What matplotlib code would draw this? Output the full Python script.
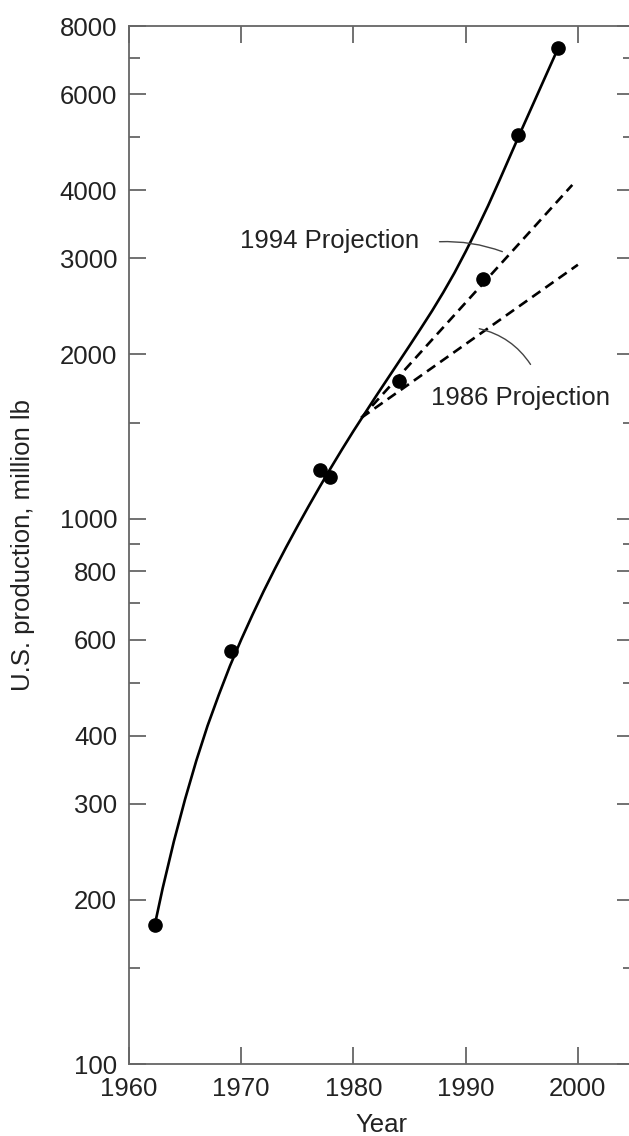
import matplotlib
matplotlib.use("Agg")
import matplotlib.pyplot as plt
from matplotlib.ticker import FixedLocator, NullFormatter, FixedFormatter

plt.rcParams['font.family'] = ['Liberation Sans', 'DejaVu Sans']

# ---- data ----
data_years = [1962.3, 1969.1, 1977.05, 1977.9, 1984.1, 1991.5, 1994.7, 1998.2]
data_values = [180, 571, 1226, 1193, 1791, 2754, 5050, 7280]

# points
curve_years = [1962.3, 1963, 1964, 1965, 1966, 1967, 1968, 1969, 1970, 1971,
               1972, 1973, 1974, 1975, 1976, 1977, 1978, 1979, 1980, 1981,
               1982, 1983, 1984, 1985, 1986, 1987, 1988, 1989, 1990, 1991,
               1992, 1993, 1994, 1995, 1996, 1997, 1998, 1998.2]
curve_values = [180, 210, 256, 306, 360, 417, 475, 537, 600, 666,
                736, 809, 886, 967, 1053, 1144, 1240, 1341, 1447, 1557,
                1675, 1799, 1932, 2075, 2231, 2402, 2597, 2821, 3087, 3393,
                3747, 4165, 4641, 5171, 5748, 6391, 7104, 7255]

proj1994_years = [1980.7, 1999.5]
proj1994_values = [1530, 4090]
proj1986_years = [1980.7, 2000.0]
proj1986_values = [1530, 2920]

x_ticks = [1960, 1970, 1980, 1990, 2000]
x_tick_labels = ['1960', '1970', '1980', '1990', '2000']
y_major = [100, 200, 300, 400, 600, 800, 1000, 2000, 3000, 4000, 6000, 8000]
y_major_labels = ['100', '200', '300', '400', '600', '800', '1000', '2000',
                  '3000', '4000', '6000', '8000']
y_minor = [150, 500, 700, 900, 1500, 5000, 7000]

# ---- figure ----
W, H = 629, 1136
fig = plt.figure(figsize=(W / 100, H / 100), dpi=100)
ax = fig.add_axes([129 / W, 72 / H, (634 - 129) / W, (1064 - 26) / H])

ax.set_yscale('log')
ax.set_xlim(1960, 2005)
ax.set_ylim(100, 8000)

spine_color = '#666666'
text_color = '#222222'
fs = 18.5

for s in ax.spines.values():
    s.set_color(spine_color)
    s.set_linewidth(1.3)

ax.xaxis.set_major_locator(FixedLocator(x_ticks))
ax.xaxis.set_major_formatter(FixedFormatter(x_tick_labels))
ax.xaxis.set_minor_locator(FixedLocator([]))
ax.yaxis.set_major_locator(FixedLocator(y_major))
ax.yaxis.set_major_formatter(FixedFormatter(y_major_labels))
ax.yaxis.set_minor_locator(FixedLocator(y_minor))
ax.yaxis.set_minor_formatter(NullFormatter())

ax.tick_params(axis='both', which='major', direction='in', length=12.5,
               width=1.3, color=spine_color, labelsize=fs,
               labelcolor=text_color, top=True, right=True)
ax.tick_params(axis='both', which='minor', direction='in', length=8,
               width=1.3, color=spine_color, top=True, right=True)
ax.tick_params(axis='y', which='major', pad=8.5)
ax.tick_params(axis='x', which='major', pad=9.5)

# solid curve
ax.plot(curve_years, curve_values, color='black', lw=1.9,
        solid_capstyle='round', solid_joinstyle='round', zorder=3)
# projections
ax.plot(proj1994_years, proj1994_values, color='black', lw=1.9,
        dashes=(3.8, 2.3), zorder=3)
ax.plot(proj1986_years, proj1986_values, color='black', lw=1.9,
        dashes=(3.8, 2.3), zorder=3)
# data points
ax.plot(data_years, data_values, 'o', color='black', ms=9.5, zorder=4)

# annotations
ax.text(1977.9, 3224, '1994 Projection', fontsize=fs, color=text_color,
        ha='center', va='center')
ax.annotate('', xy=(1993.27, 3086), xytext=(1987.67, 3218),
            arrowprops=dict(arrowstyle='-', color='#444444', lw=1.0,
                            shrinkA=0, shrinkB=0,
                            connectionstyle='arc3,rad=-0.1'))
ax.text(1994.9, 1665, '1986 Projection', fontsize=fs, color=text_color,
        ha='center', va='center')
ax.annotate('', xy=(1995.78, 1917), xytext=(1991.21, 2229),
            arrowprops=dict(arrowstyle='-', color='#444444', lw=1.0,
                            shrinkA=0, shrinkB=0,
                            connectionstyle='arc3,rad=-0.2'))

# axis labels
ax.text((23 - 129) / 505, 0.5, 'U.S. production, million lb', transform=ax.transAxes,
        rotation=90, ha='center', va='center', fontsize=fs, color=text_color)
ax.text(0.5, (1064 - 1125) / 1038, 'Year', transform=ax.transAxes,
        ha='center', va='center', fontsize=fs, color=text_color)

fig.savefig('out.png', dpi=100)
